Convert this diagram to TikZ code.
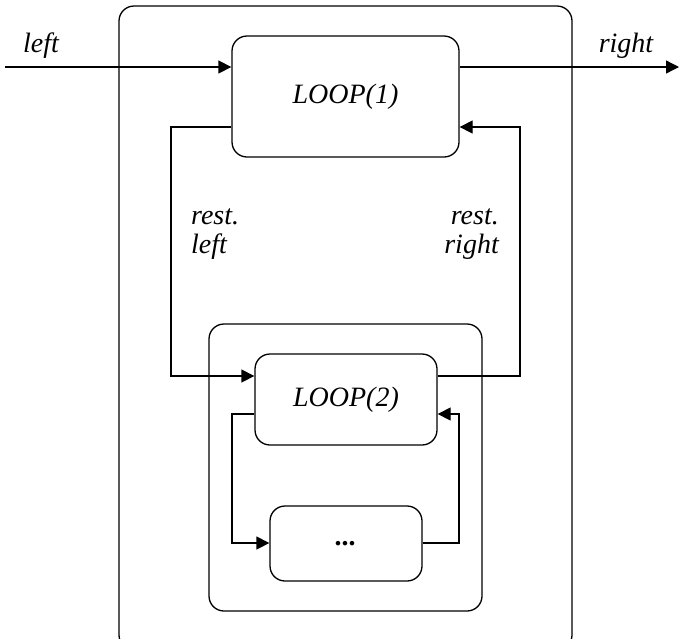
\documentclass[tikz,border=0pt]{standalone}
\usepackage{fontspec}
\setmainfont{Liberation Serif}
\usetikzlibrary{arrows.meta}
\begin{document}
\begin{tikzpicture}[x=1pt,y=-1pt,
  box/.style={draw, line width=1.3pt, rounded corners=15pt, inner sep=0pt},
  arr/.style={line width=1.3pt, -{Triangle[length=13pt,width=13pt]}},
  lbl/.style={font=\fontsize{28}{30}\selectfont\itshape, inner sep=0pt}]
\useasboundingbox (0,0) rectangle (679,638);
\begin{scope}
\clip (0,0) rectangle (679,638);
\node[box, minimum width=453pt, minimum height=644pt] (outer) at (345.5,328) {};
\end{scope}
\node[box, minimum width=273pt, minimum height=287pt] (inner) at (345.5,467.5) {};
\node[box, minimum width=227pt, minimum height=121pt, lbl] (L1) at (345.5,96.5) {LOOP(1)};
\node[box, minimum width=182pt, minimum height=91pt, lbl] (L2) at (346,399.5) {LOOP(2)};
\node[box, minimum width=152pt, minimum height=75pt, lbl] (D) at (346,543.5) {\textbf{...}};
% external
\coordinate (inL) at (5,67);
\coordinate (outR) at (679,67);
\draw[arr] (inL) -- (inL -| L1.west);
\draw[arr] (L1.east |- outR) -- (outR);
\node[lbl, anchor=base] (tl) at (41,52) {left};
\node[lbl, anchor=base] (tr) at (626,52) {right};
% rest left / right
\coordinate (a1) at (171,127);
\coordinate (a2) at (171,376);
\draw[arr] (L1.west |- a1) -- (a1) -- (a2) -- (a2 -| L2.west);
\coordinate (b1) at (520,376);
\coordinate (b2) at (520,127);
\draw[arr] (L2.east |- b1) -- (b1) -- (b2) -- (b2 -| L1.east);
\node[lbl, anchor=base west] (rl1) at (191,224) {rest.};
\node[lbl, anchor=base west] (rl2) at (191,253) {left};
\node[lbl, anchor=base east] (rr1) at (499,224) {rest.};
\node[lbl, anchor=base east] (rr2) at (499,253) {right};
% inner loop
\coordinate (c1) at (232,414);
\coordinate (c2) at (232,543);
\draw[arr] (L2.west |- c1) -- (c1) -- (c2) -- (c2 -| D.west);
\coordinate (d1) at (459,543);
\coordinate (d2) at (459,414);
\draw[arr] (D.east |- d1) -- (d1) -- (d2) -- (d2 -| L2.east);
\end{tikzpicture}
\end{document}
